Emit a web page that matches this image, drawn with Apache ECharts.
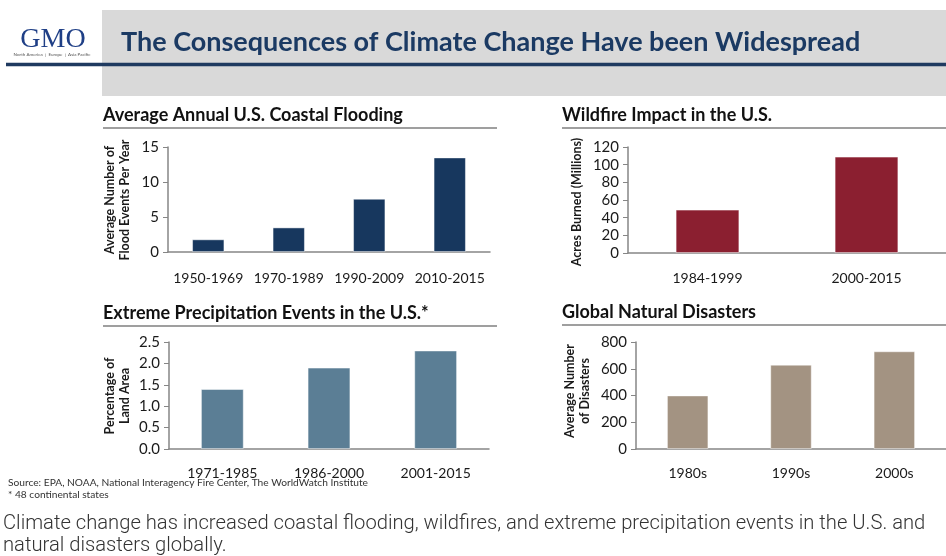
<!DOCTYPE html>
<html>
<head>
<meta charset="utf-8">
<script src="https://cdn.jsdelivr.net/npm/echarts@6/dist/echarts.min.js"></script>
<style>
  html, body { margin: 0; padding: 0; background: #fff; }
  #chart { width: 946px; height: 556px; }
</style>
</head>
<body>
<div id="chart"></div>
<script>
// Average annual U.S. coastal flooding
const floodCategories = ['1950-1969', '1970-1989', '1990-2009', '2010-2015'];
const floodValues = [1.8, 3.5, 7.6, 13.5];
const floodTicks = { min: 0, max: 15, interval: 5 };

// Wildfire impact in the U.S. (acres burned, millions)
const fireCategories = ['1984-1999', '2000-2015'];
const fireValues = [49, 109];
const fireTicks = { min: 0, max: 120, interval: 20 };

// Extreme precipitation events (percentage of land area)
const precipCategories = ['1971-1985', '1986-2000', '2001-2015'];
const precipValues = [1.4, 1.9, 2.3];
const precipTicks = { min: 0, max: 2.5, interval: 0.5 };

// Global natural disasters (average number)
const disasterCategories = ['1980s', '1990s', '2000s'];
const disasterValues = [400, 630, 730];
const disasterTicks = { min: 0, max: 800, interval: 200 };

const FONT = 'Lato, "Open Sans", sans-serif';
const AXIS_GREY = '#868686';

function catAxis(gridIndex, data, margin) {
  return {
    type: 'category', gridIndex, data,
    axisLine: { show: true, lineStyle: { color: AXIS_GREY, width: 1.5 } },
    axisTick: { show: false },
    axisLabel: { interval: 0, color: '#1a1a1a', fontFamily: FONT, fontSize: 14, margin }
  };
}
function valAxis(gridIndex, ticks, digits) {
  return {
    type: 'value', gridIndex, min: ticks.min, max: ticks.max, interval: ticks.interval,
    splitLine: { show: false },
    axisLine: { show: true, lineStyle: { color: AXIS_GREY, width: 1.5 } },
    axisTick: { show: true, length: 5, lineStyle: { color: AXIS_GREY } },
    axisLabel: {
      color: '#1a1a1a', fontFamily: FONT, fontSize: 15, margin: 9,
      formatter: v => digits ? v.toFixed(digits) : String(v)
    }
  };
}
function barSeries(idx, data, color) {
  return {
    type: 'bar', xAxisIndex: idx, yAxisIndex: idx, data,
    barWidth: '40%',
    itemStyle: { color, borderColor: 'rgba(255,255,255,0.6)', borderWidth: 0.8 },
    silent: true
  };
}
function panelTitle(text, left, top) {
  return { text, left, top, padding: 0, textStyle: { fontFamily: FONT, fontWeight: 'bold', fontSize: 18, color: '#111' } };
}
function sepLine(x1, x2, y) {
  return { type: 'line', shape: { x1, y1: y, x2, y2: y }, style: { stroke: '#7f7f7f', lineWidth: 1.5 } };
}
function yName(text, x, y) {
  return {
    type: 'text', x, y, rotation: Math.PI / 2,
    style: {
      text, fill: '#1a1a1a', fontFamily: FONT, fontWeight: 'bold', fontSize: 12.5,
      align: 'center', verticalAlign: 'middle', lineHeight: 15
    }
  };
}

const chart = echarts.init(document.getElementById('chart'), null, { renderer: 'canvas' });
chart.setOption({
  animation: false,
  backgroundColor: '#ffffff',
  title: [
    panelTitle('Average Annual U.S. Coastal Flooding', 103, 106),
    panelTitle('Wildfire Impact in the U.S.', 562, 106),
    panelTitle('Extreme Precipitation Events in the U.S.*', 103, 304),
    panelTitle('Global Natural Disasters', 562, 303)
  ],
  grid: [
    { left: 168, top: 147, width: 322, height: 105 },
    { left: 628, top: 147, width: 322, height: 106 },
    { left: 169, top: 342, width: 320, height: 107 },
    { left: 636, top: 342, width: 313, height: 107 }
  ],
  xAxis: [
    catAxis(0, floodCategories, 19),
    catAxis(1, fireCategories, 18),
    catAxis(2, precipCategories, 17),
    catAxis(3, disasterCategories, 17)
  ],
  yAxis: [
    valAxis(0, floodTicks, 0),
    valAxis(1, fireTicks, 0),
    valAxis(2, precipTicks, 1),
    valAxis(3, disasterTicks, 0)
  ],
  series: [
    barSeries(0, floodValues, '#17375e'),
    barSeries(1, fireValues, '#8b1f30'),
    barSeries(2, precipValues, '#5b7e95'),
    barSeries(3, disasterValues, '#a39382')
  ],
  graphic: [
    // header band
    { type: 'rect', shape: { x: 102, y: 10, width: 844, height: 86 }, style: { fill: '#d9d9d9' }, z: -10 },
    { type: 'line', shape: { x1: 6, y1: 64.5, x2: 946, y2: 64.5 }, style: { stroke: '#1f3a60', lineWidth: 3.5 } },
    { type: 'text', x: 53, y: 40, style: { text: 'GMO', fill: '#1f3f86', fontFamily: '"Liberation Serif", "DejaVu Serif", serif', fontSize: 28, align: 'center', verticalAlign: 'middle' } },
    { type: 'text', x: 52, y: 54.5, style: { text: 'North America  |  Europe  |  Asia Pacific', fill: '#555', fontFamily: FONT, fontSize: 4.5, align: 'center', verticalAlign: 'middle' } },
    { type: 'text', x: 121, y: 42, style: { text: 'The Consequences of Climate Change Have been Widespread', fill: '#1b3a63', fontFamily: FONT, fontWeight: 'bold', fontSize: 27, align: 'left', verticalAlign: 'middle' } },
    // panel separators
    sepLine(103, 497, 128),
    sepLine(562, 946, 128),
    sepLine(103, 497, 326),
    sepLine(562, 946, 325),
    // value-axis titles
    yName('Average Number of\nFlood Events Per Year', 117.5, 200),
    yName('Acres Burned (Millions)', 577, 202),
    yName('Percentage of\nLand Area', 117.5, 396),
    yName('Average Number\nof Disasters', 577, 391),
    // notes
    { type: 'text', x: 8, y: 483, style: { text: 'Source: EPA, NOAA, National Interagency Fire Center, The WorldWatch Institute', fill: '#333', fontFamily: FONT, fontSize: 10.2, verticalAlign: 'middle' } },
    { type: 'text', x: 8, y: 495, style: { text: '* 48 continental states', fill: '#333', fontFamily: FONT, fontSize: 10.2, verticalAlign: 'middle' } },
    { type: 'text', x: 3, y: 524, style: { text: 'Climate change has increased coastal flooding, wildfires, and extreme precipitation events in the U.S. and', fill: '#333', fontFamily: 'Roboto, sans-serif', fontWeight: 300, fontSize: 20.2, verticalAlign: 'middle' } },
    { type: 'text', x: 3, y: 546, style: { text: 'natural disasters globally.', fill: '#333', fontFamily: 'Roboto, sans-serif', fontWeight: 300, fontSize: 20.2, verticalAlign: 'middle' } }
  ]
});
</script>
</body>
</html>
